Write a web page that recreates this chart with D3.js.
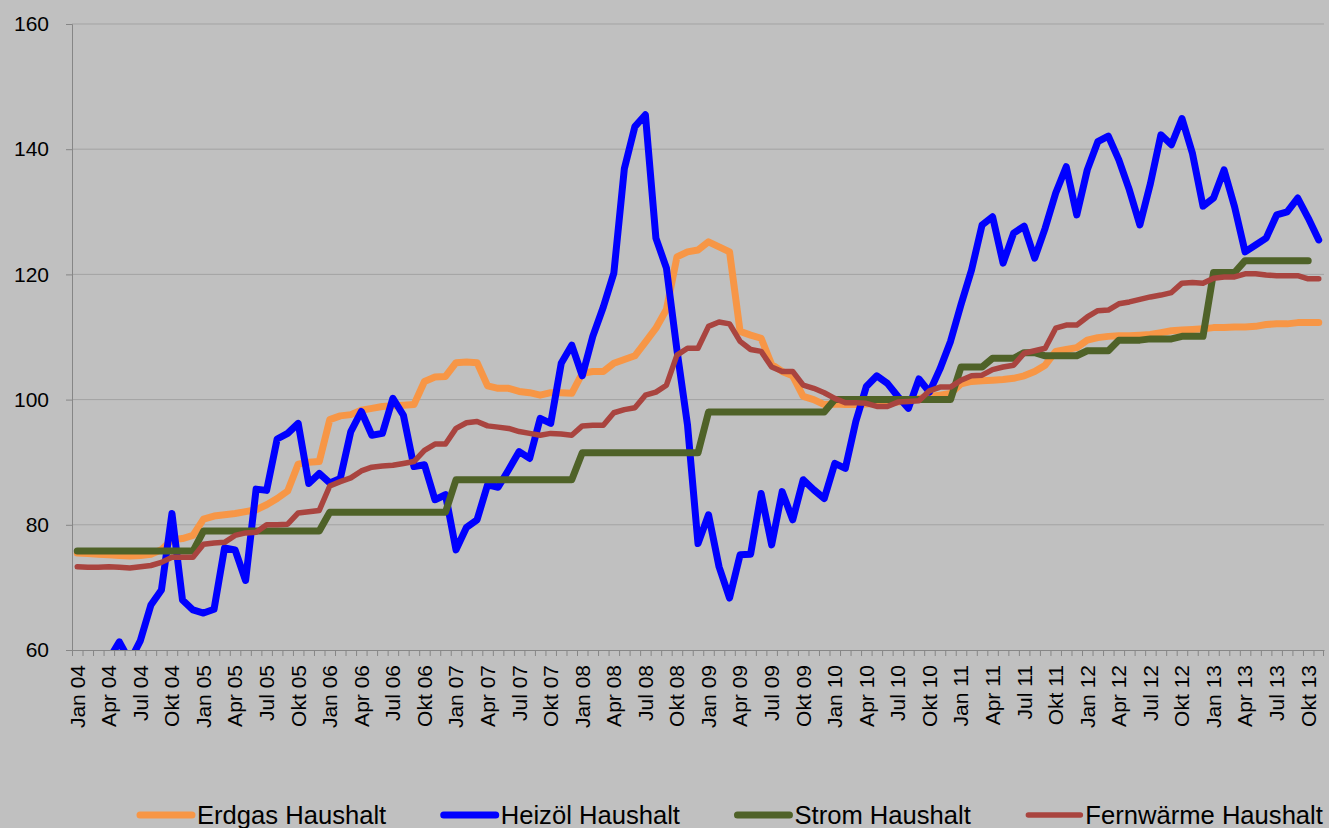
<!DOCTYPE html>
<html>
<head>
<meta charset="utf-8">
<script src="https://cdn.jsdelivr.net/npm/d3@7"></script>
<style>
  body { margin: 0; background: #c0c0c0; }
  #chart { width: 1329px; height: 828px; }
  text { font-family: 'Liberation Sans', Arial, sans-serif; }
</style>
</head>
<body>
<div id="chart"></div>
<script>
// month names (German) and years of the category axis
const monthNames = ['Jan', 'Feb', 'Mär', 'Apr', 'Mai', 'Jun', 'Jul', 'Aug', 'Sep', 'Okt', 'Nov', 'Dez']
const years = ['04', '05', '06', '07', '08', '09', '10', '11', '12', '13']
const categories = years.flatMap((y) => monthNames.map((m) => `${m} ${y}`)).slice(0, 119)

const yTicks = [60, 80, 100, 120, 140, 160]

const erdgas = [
  75.5, 75.4, 75.3, 75.2, 75.1, 75.0, 75.1, 75.3, 76.0, 77.6, 77.8, 78.3,
  80.9, 81.4, 81.6, 81.8, 82.1, 82.4, 83.2, 84.2, 85.4, 89.7, 90.0, 90.1,
  96.8, 97.4, 97.6, 98.3, 98.6, 98.9, 99.0, 99.1, 99.2, 102.9, 103.6, 103.7,
  105.9, 106.0, 105.9, 102.2, 101.8, 101.8, 101.3, 101.1, 100.7, 101.1, 101.1, 101.0,
  104.2, 104.5, 104.5, 105.8, 106.4, 107.0, 109.2, 111.4, 114.4, 122.8, 123.6, 123.9,
  125.2, 124.4, 123.6, 110.9, 110.3, 109.8, 105.6, 104.5, 103.8, 100.5, 100.0, 99.2,
  99.3, 99.2, 99.2, 99.3, 99.4, 99.5, 99.6, 99.8, 100.2, 100.5, 100.7, 101.0,
  102.5, 102.9, 103.0, 103.1, 103.2, 103.4, 103.8, 104.5, 105.5, 107.7, 108.0, 108.3,
  109.5, 109.9, 110.1, 110.2, 110.2, 110.3, 110.4, 110.7, 111.0, 111.1, 111.2, 111.3,
  111.5, 111.5, 111.6, 111.6, 111.7, 112.0, 112.1, 112.1, 112.3, 112.3, 112.3,
]

const heizoel = [
  55.0, 56.0, 57.0, 58.5, 61.3, 58.2, 61.5, 67.2, 69.6, 81.8, 68.0, 66.4,
  65.9, 66.5, 76.3, 76.0, 71.1, 85.7, 85.5, 93.7, 94.6, 96.2, 86.6, 88.2,
  86.7, 87.4, 94.9, 98.1, 94.3, 94.6, 100.2, 97.5, 89.3, 89.6, 84.0, 84.8,
  76.0, 79.6, 80.8, 86.4, 86.0, 88.8, 91.7, 90.6, 97.0, 96.2, 105.8, 108.7,
  103.8, 110.1, 114.8, 120.2, 136.9, 143.6, 145.5, 125.8, 121.0, 107.9, 96.0, 77.0,
  81.6, 73.3, 68.3, 75.2, 75.3, 85.0, 76.8, 85.3, 80.8, 87.2, 85.6, 84.2,
  89.8, 89.0, 96.5, 102.1, 103.8, 102.6, 100.5, 98.6, 103.3, 101.2, 104.9, 109.3,
  115.2, 120.7, 127.9, 129.2, 121.8, 126.6, 127.7, 122.6, 127.4, 133.0, 137.2, 129.5,
  136.7, 141.2, 142.1, 138.3, 133.5, 127.9, 134.5, 142.3, 140.7, 144.9, 139.3, 130.9,
  132.2, 136.7, 130.8, 123.6, 124.7, 125.8, 129.5, 130.0, 132.2, 129.0, 125.5,
]

const strom = [
  75.8, 75.8, 75.8, 75.8, 75.8, 75.8, 75.8, 75.8, 75.8, 75.8, 75.8, 75.8,
  79.0, 79.0, 79.0, 79.0, 79.0, 79.0, 79.0, 79.0, 79.0, 79.0, 79.0, 79.0,
  82.0, 82.0, 82.0, 82.0, 82.0, 82.0, 82.0, 82.0, 82.0, 82.0, 82.0, 82.0,
  87.2, 87.2, 87.2, 87.2, 87.2, 87.2, 87.2, 87.2, 87.2, 87.2, 87.2, 87.2,
  91.5, 91.5, 91.5, 91.5, 91.5, 91.5, 91.5, 91.5, 91.5, 91.5, 91.5, 91.5,
  98.0, 98.0, 98.0, 98.0, 98.0, 98.0, 98.0, 98.0, 98.0, 98.0, 98.0, 98.0,
  100.0, 100.0, 100.0, 100.0, 100.0, 100.0, 100.0, 100.0, 100.0, 100.0, 100.0, 100.0,
  105.2, 105.2, 105.2, 106.6, 106.6, 106.6, 107.5, 107.5, 107.0, 107.0, 107.0, 107.0,
  107.8, 107.8, 107.8, 109.5, 109.5, 109.5, 109.7, 109.7, 109.7, 110.1, 110.1, 110.1,
  120.3, 120.3, 120.3, 122.2, 122.2, 122.2, 122.2, 122.2, 122.2, 122.2, null,
]

const fernwaerme = [
  73.3, 73.2, 73.2, 73.3, 73.2, 73.1, 73.3, 73.5, 74.0, 74.8, 74.8, 74.8,
  76.9, 77.1, 77.2, 78.3, 78.7, 78.8, 80.0, 80.0, 80.1, 81.9, 82.1, 82.3,
  86.2, 86.9, 87.5, 88.6, 89.2, 89.4, 89.5, 89.8, 90.1, 91.9, 92.9, 92.9,
  95.4, 96.3, 96.5, 95.8, 95.6, 95.4, 94.9, 94.6, 94.3, 94.6, 94.5, 94.3,
  95.8, 95.9, 95.9, 97.9, 98.4, 98.7, 100.7, 101.2, 102.3, 107.1, 108.2, 108.2,
  111.7, 112.4, 112.1, 109.3, 108.0, 107.7, 105.2, 104.5, 104.5, 102.3, 101.8, 101.1,
  100.2, 99.5, 99.5, 99.4, 98.9, 98.9, 99.6, 99.7, 99.8, 101.4, 102.0, 102.0,
  103.1, 103.8, 103.9, 104.8, 105.2, 105.5, 107.4, 107.8, 108.2, 111.4, 111.9, 111.9,
  113.2, 114.2, 114.3, 115.3, 115.6, 116.0, 116.4, 116.7, 117.1, 118.6, 118.7, 118.6,
  119.4, 119.6, 119.6, 120.1, 120.1, 119.9, 119.8, 119.8, 119.8, 119.3, 119.3,
]

const seriesNames = ['Erdgas Haushalt', 'Heizöl Haushalt', 'Strom Haushalt', 'Fernwärme Haushalt']
const seriesValues = [erdgas, heizoel, strom, fernwaerme]
const seriesColors = ['#f79646', '#0000ff', '#4f6228', '#a9443f']
const seriesWidths = [7, 7, 7, 5.5]

const draw = () => {
  const dimensions = {
    width: 1329,
    height: 828,
    marginLeft: 72,
    marginTop: 24,
    marginRight: 5,
    marginBottom: 178,
  }
  dimensions.ctrWidth = dimensions.width - dimensions.marginLeft - dimensions.marginRight
  dimensions.ctrHeight = dimensions.height - dimensions.marginTop - dimensions.marginBottom

  const svg = d3
    .select('#chart')
    .append('svg')
    .attr('width', dimensions.width)
    .attr('height', dimensions.height)

  svg.append('rect')
    .attr('width', dimensions.width)
    .attr('height', dimensions.height)
    .attr('fill', '#c0c0c0')

  const ctr = svg
    .append('g')
    .attr('transform', `translate(${dimensions.marginLeft}, ${dimensions.marginTop})`)

  // scales
  const xScale = d3.scaleBand().domain(categories).range([0, dimensions.ctrWidth])
  const xCenter = (c) => xScale(c) + xScale.bandwidth() / 2

  const yScale = d3.scaleLinear().domain([60, 160]).range([dimensions.ctrHeight, 0])

  // horizontal gridlines
  ctr.append('g')
    .selectAll('line')
    .data(yTicks.filter((d) => d > 60))
    .join('line')
    .attr('x1', 0)
    .attr('x2', dimensions.ctrWidth)
    .attr('y1', (d) => yScale(d))
    .attr('y2', (d) => yScale(d))
    .attr('stroke', '#a3a3a3')
    .attr('stroke-width', 1)

  // y axis
  const yAxis = d3.axisLeft(yScale).tickValues(yTicks).tickSize(6).tickPadding(17)
  const yAxisGroup = ctr.append('g').call(yAxis)
  yAxisGroup.select('.domain').attr('stroke', '#868686')
  yAxisGroup.selectAll('.tick line').attr('stroke', '#868686')
  yAxisGroup.selectAll('.tick text')
    .attr('fill', '#000')
    .style('font-size', '21px')
    .style('font-family', "'Liberation Sans', Arial, sans-serif")

  // x axis: labels every 3rd month
  const xAxis = d3.axisBottom(xScale)
    .tickValues(categories.filter((d, i) => i % 3 === 0))
    .tickSize(0)
  const xAxisGroup = ctr.append('g')
    .attr('transform', `translate(0, ${dimensions.ctrHeight})`)
    .call(xAxis)
  xAxisGroup.select('.domain').attr('stroke', '#868686')
  xAxisGroup.selectAll('.tick text')
    .attr('transform', 'rotate(-90)')
    .attr('x', -15)
    .attr('y', 0)
    .attr('dy', '0.35em')
    .attr('fill', '#000')
    .style('text-anchor', 'end')
    .style('font-size', '21px')
    .style('font-family', "'Liberation Sans', Arial, sans-serif")

  // small tick marks between months
  xAxisGroup.append('g')
    .selectAll('line')
    .data(categories)
    .join('line')
    .attr('x1', (d) => xScale(d) + 0.5)
    .attr('x2', (d) => xScale(d) + 0.5)
    .attr('y1', 0)
    .attr('y2', 6)
    .attr('stroke', '#868686')

  xAxisGroup.append('line')
    .attr('x1', dimensions.ctrWidth - 0.5)
    .attr('x2', dimensions.ctrWidth - 0.5)
    .attr('y1', 0)
    .attr('y2', 6)
    .attr('stroke', '#868686')

  // clip the lines to the plot area
  svg.append('defs')
    .append('clipPath')
    .attr('id', 'plot-clip')
    .append('rect')
    .attr('x', 0)
    .attr('y', 0)
    .attr('width', dimensions.ctrWidth)
    .attr('height', dimensions.ctrHeight)

  const lineGenerator = d3
    .line()
    .defined((d) => d.value !== null)
    .x((d) => xCenter(d.category))
    .y((d) => yScale(d.value))

  const lines = ctr.append('g').attr('clip-path', 'url(#plot-clip)')

  seriesValues.forEach((values, s) => {
    const data = values.map((v, i) => ({ category: categories[i], value: v }))
    lines
      .append('path')
      .datum(data)
      .attr('d', lineGenerator)
      .attr('fill', 'none')
      .attr('stroke', seriesColors[s])
      .attr('stroke-width', seriesWidths[s])
      .attr('stroke-linejoin', 'round')
      .attr('stroke-linecap', 'round')
  })

  // legend
  const legend = svg.append('g').attr('transform', 'translate(137, 815)')
  let xPos = 0
  seriesNames.forEach((name, s) => {
    const item = legend.append('g').attr('transform', `translate(${xPos}, 0)`)
    item.append('line')
      .attr('x1', 3)
      .attr('x2', 55)
      .attr('y1', 0)
      .attr('y2', 0)
      .attr('stroke', seriesColors[s])
      .attr('stroke-width', seriesWidths[s])
      .attr('stroke-linecap', 'round')
    const label = item.append('text')
      .attr('x', 60)
      .attr('y', 9)
      .attr('fill', '#000')
      .style('font-size', '25.6px')
      .text(name)
    xPos += 60 + label.node().getComputedTextLength() + 54.5
  })
}

draw()
</script>
</body>
</html>
